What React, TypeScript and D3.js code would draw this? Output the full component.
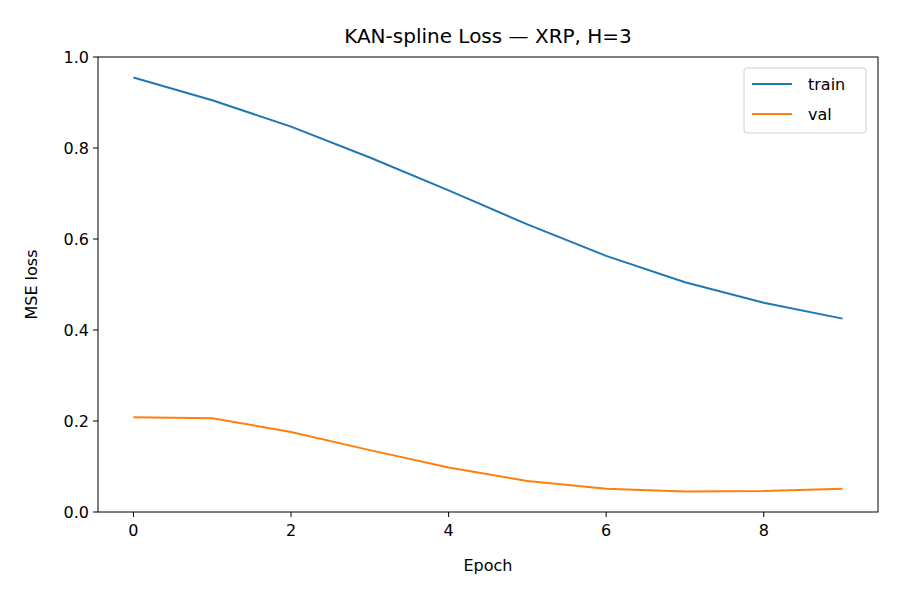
import React from "react";
import { scaleLinear, line } from "d3";

const epochs = [0, 1, 2, 3, 4, 5, 6, 7, 8, 9];
const trainLoss = [0.955, 0.905, 0.847, 0.779, 0.707, 0.632, 0.563, 0.505, 0.46, 0.425];
const valLoss = [0.208, 0.206, 0.176, 0.136, 0.098, 0.068, 0.051, 0.045, 0.046, 0.051];
const xTicks = [0, 2, 4, 6, 8];
const yTicks = [0, 0.2, 0.4, 0.6, 0.8, 1.0];

const series = [
  { name: "train", values: trainLoss, color: "#1f77b4" },
  { name: "val", values: valLoss, color: "#ff7f0e" },
];

export default function App() {
  const left = 98, right = 878, top = 57, bottom = 512;
  const x = scaleLinear().domain([-0.45, 9.45]).range([left, right]);
  const y = scaleLinear().domain([0, 1]).range([bottom, top]);
  const font = "DejaVu Sans, sans-serif";

  return (
    <svg width={900} height={600} style={{ position: "absolute", left: 0, top: 0, fontFamily: font }}>
      <rect width={900} height={600} fill="white" />
      <text x={(left + right) / 2} y={43} textAnchor="middle" fontSize={20}>
        KAN-spline Loss — XRP, H=3
      </text>
      {series.map((s) => (
        <path
          key={s.name}
          d={line<number>().x((_, i) => x(epochs[i])).y((v) => y(v))(s.values) ?? ""}
          fill="none"
          stroke={s.color}
          strokeWidth={2}
        />
      ))}
      <rect x={left} y={top} width={right - left} height={bottom - top} fill="none" stroke="black" strokeWidth={1} />
      {xTicks.map((t) => (
        <g key={t}>
          <line x1={x(t)} x2={x(t)} y1={bottom} y2={bottom + 5} stroke="black" />
          <text x={x(t)} y={bottom + 24} textAnchor="middle" fontSize={16}>{t}</text>
        </g>
      ))}
      {yTicks.map((t) => (
        <g key={t}>
          <line x1={left - 5} x2={left} y1={y(t)} y2={y(t)} stroke="black" />
          <text x={left - 9} y={y(t) + 6} textAnchor="end" fontSize={16}>{t.toFixed(1)}</text>
        </g>
      ))}
      <text x={(left + right) / 2} y={571} textAnchor="middle" fontSize={16}>Epoch</text>
      <text transform={`translate(37,${(top + bottom) / 2}) rotate(-90)`} textAnchor="middle" fontSize={16}>
        MSE loss
      </text>
      <g>
        <rect x={744} y={68} width={122} height={65} fill="white" stroke="#d0d0d0" rx={3} />
        {series.map((s, i) => (
          <g key={s.name}>
            <line x1={752} x2={792} y1={84 + i * 30} y2={84 + i * 30} stroke={s.color} strokeWidth={2} />
            <text x={808} y={90 + i * 30} fontSize={16}>{s.name}</text>
          </g>
        ))}
      </g>
    </svg>
  );
}
